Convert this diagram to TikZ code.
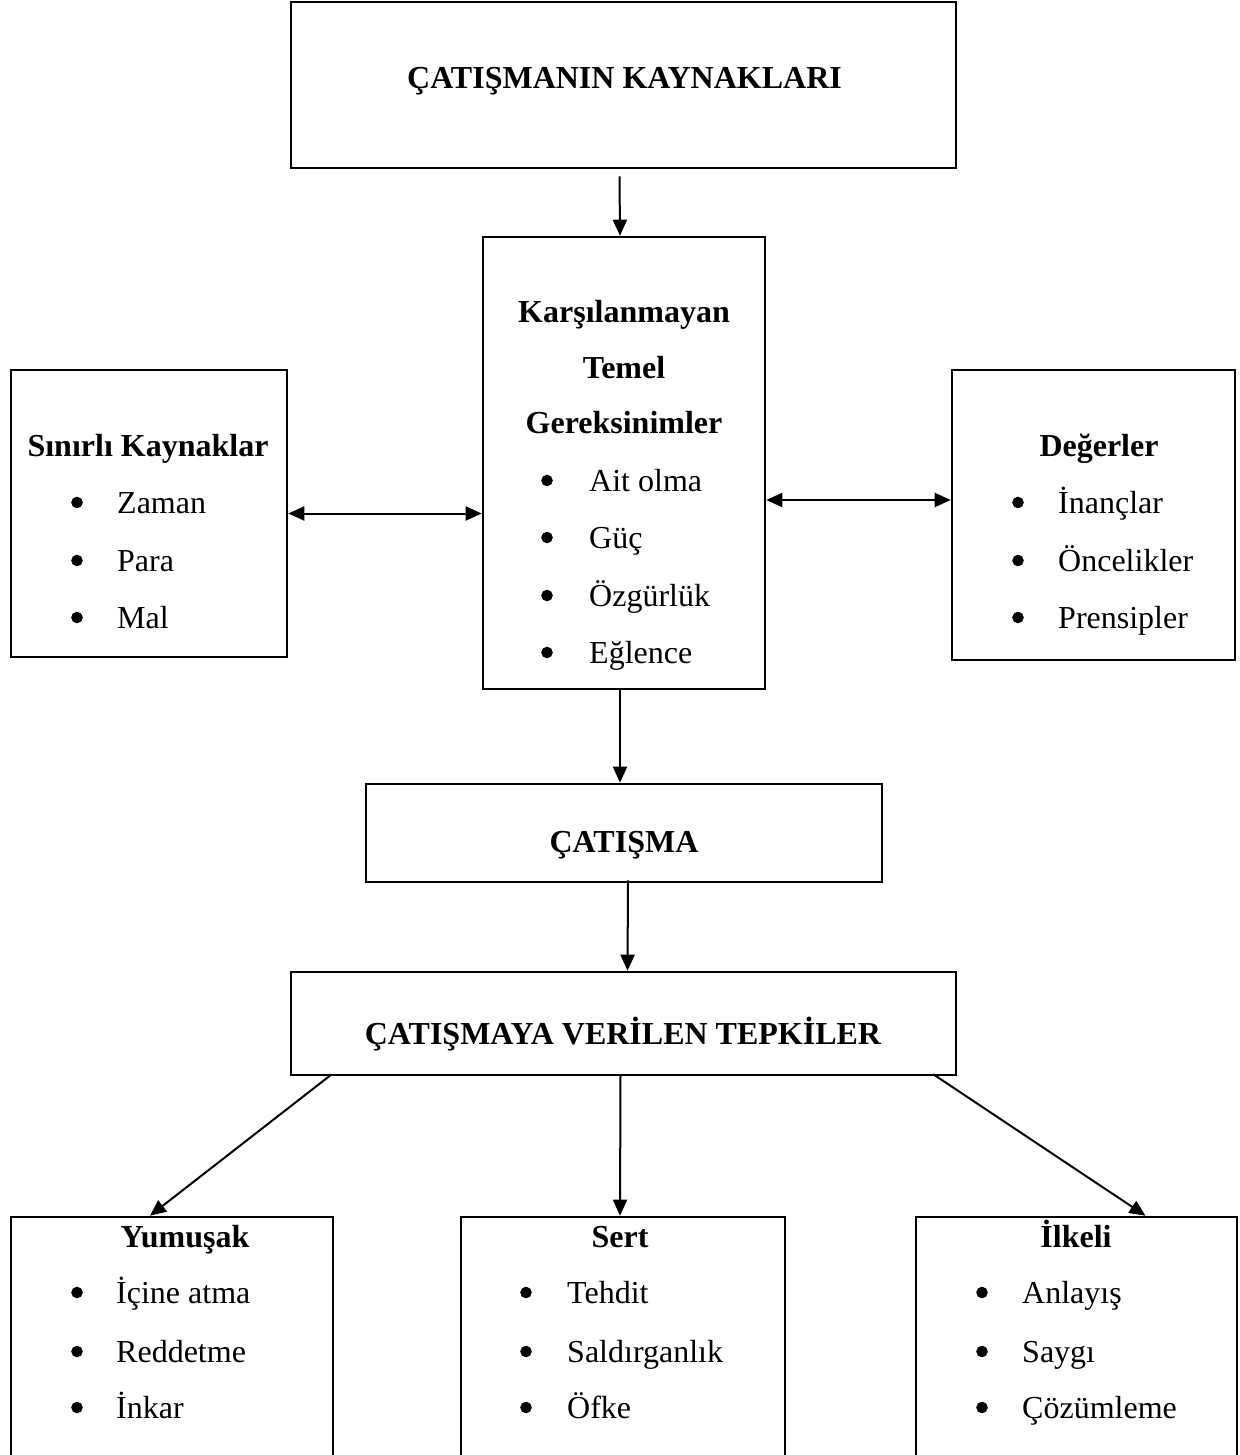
\documentclass[tikz,border=0pt]{standalone}
\usepackage{fontspec}
\setmainfont{Liberation Serif}
\usetikzlibrary{arrows.meta}
\begin{document}
\begin{tikzpicture}[x=1pt,y=-1pt,
  box/.style={draw, line width=2.6pt, inner sep=0pt},
  arr/.style={-{Triangle[length=16pt,width=14pt]}, line width=2pt},
  darr/.style={{Triangle[length=16pt,width=14pt]}-{Triangle[length=16pt,width=14pt]}, line width=2pt},
  hd/.style={font=\fontsize{32}{38}\selectfont\bfseries, anchor=base, inner sep=0pt},
  itm/.style={font=\fontsize{32}{38}\selectfont, anchor=base west, inner sep=0pt},
  bul/.style={circle, draw=black, fill=black, line width=1pt, inner sep=0pt, minimum size=10.5pt, yshift=10.5pt}]
\useasboundingbox (0,0) rectangle (1239,1455);
\clip (0,0) rectangle (1239,1455);
% boxes
\node[box, minimum width=665pt, minimum height=166pt] (topb) at (623.5,85) {};
\node[box, minimum width=282pt, minimum height=452pt] (mid) at (624,463) {};
\node[box, minimum width=276pt, minimum height=287pt] (lft) at (149,513.5) {};
\node[box, minimum width=283pt, minimum height=290pt] (rgt) at (1093.5,515) {};
\node[box, minimum width=516pt, minimum height=98pt] (cat) at (624,833) {};
\node[box, minimum width=665pt, minimum height=103pt] (tep) at (623.5,1023.5) {};
\node[box, minimum width=322pt, minimum height=283pt] (yum) at (172,1358.5) {};
\node[box, minimum width=324pt, minimum height=283pt] (sert) at (623,1358.5) {};
\node[box, minimum width=321pt, minimum height=283pt] (ilk) at (1076.5,1358.5) {};
% texts
\node[hd] (t1) at (624.5,89) {ÇATIŞMANIN KAYNAKLARI};
\node[hd] (m1) at (624,322) {Karşılanmayan};
\node[hd] (m2) at (624,378) {Temel};
\node[hd] (m3) at (624,433) {Gereksinimler};
\foreach \t/\y [count=\i] in {Ait olma/491, Güç/548, Özgürlük/606, Eğlence/663}{
  \node[bul] (mb\i) at (547,\y) {};
  \node[itm] (mi\i) at (589,\y) {\t};
}
\node[hd] (l1) at (148,456) {Sınırlı Kaynaklar};
\foreach \t/\y [count=\i] in {Zaman/513, Para/571, Mal/628}{
  \node[bul] (lb\i) at (77,\y) {};
  \node[itm] (li\i) at (117,\y) {\t};
}
\node[hd] (r1) at (1099,456) {Değerler};
\foreach \t/\y [count=\i] in {İnançlar/513, Öncelikler/571, Prensipler/628}{
  \node[bul] (rb\i) at (1018,\y) {};
  \node[itm] (ri\i) at (1058,\y) {\t};
}
\node[hd] (c1) at (624,852) {ÇATIŞMA};
\node[hd] (p1) at (623,1044) {ÇATIŞMAYA VERİLEN TEPKİLER};
\node[hd] (y1) at (185,1247) {Yumuşak};
\foreach \t/\y [count=\i] in {İçine atma/1303, Reddetme/1362, İnkar/1418}{
  \node[bul] (yb\i) at (77,\y) {};
  \node[itm] (yi\i) at (116,\y) {\t};
}
\node[hd] (s1) at (620,1247) {Sert};
\foreach \t/\y [count=\i] in {Tehdit/1303, Saldırganlık/1362, Öfke/1418}{
  \node[bul] (sb\i) at (526,\y) {};
  \node[itm] (si\i) at (567,\y) {\t};
}
\node[hd] (k1) at (1076,1247) {İlkeli};
\foreach \t/\y [count=\i] in {Anlayış/1303, Saygı/1362, Çözümleme/1418}{
  \node[bul] (kb\i) at (982,\y) {};
  \node[itm] (ki\i) at (1022,\y) {\t};
}
% connectors
\draw[arr] ([xshift=-4pt,yshift=-7pt]topb.south) -- ([xshift=-4pt]mid.north);
\draw[arr] ([xshift=-4pt]mid.south) -- ([xshift=-4pt]cat.north);
\draw[arr] ([xshift=4pt,yshift=3pt]cat.south) -- ([xshift=4pt]tep.north);
\draw[arr] ([xshift=42pt,yshift=2pt]tep.south west) -- ([xshift=-22pt]yum.north);
\draw[arr] ([xshift=-3pt,yshift=2pt]tep.south) -- ([xshift=-3pt]sert.north);
\draw[arr] ([xshift=-24pt,yshift=2pt]tep.south east) -- ([xshift=69pt]ilk.north);
\draw[darr] (lft.east) -- (lft.east -| mid.west);
\coordinate (rm) at ([yshift=-37pt]mid.east);
\draw[darr] (rm) -- (rm -| rgt.west);
\end{tikzpicture}
\end{document}
